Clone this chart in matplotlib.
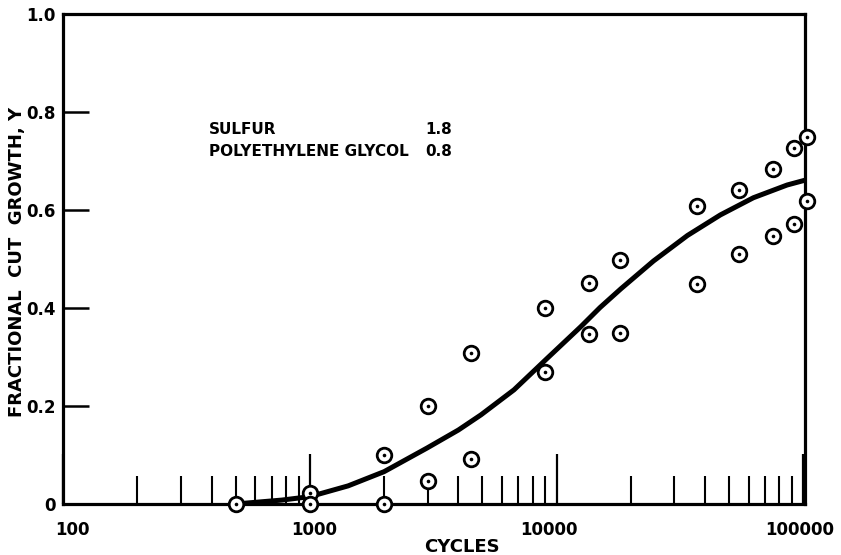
import matplotlib
matplotlib.use("Agg")
import matplotlib.pyplot as plt
import matplotlib.transforms as mtransforms
from matplotlib.ticker import FixedLocator, NullFormatter

# ---- data ----
cycles_pts = [500, 1000, 1000, 2000, 2000, 3000, 3000, 4500, 4500,
              9000, 9000, 13500, 13500, 18000, 18000, 37000, 37000,
              55000, 55000, 75000, 75000, 92000, 92000, 103000, 103000]
growth_pts = [0.0, 0.023, 0.0, 0.10, 0.0, 0.20, 0.046, 0.308, 0.092,
              0.399, 0.270, 0.452, 0.346, 0.498, 0.350, 0.608, 0.449,
              0.640, 0.510, 0.684, 0.546, 0.727, 0.571, 0.750, 0.618]

curve_x = [500, 770, 1000, 1430, 2000, 2980, 4000, 4940, 6720, 9190,
           12540, 15000, 18200, 24700, 33900, 46100, 62700, 85900, 101800]
curve_y = [0.0, 0.008, 0.015, 0.037, 0.066, 0.114, 0.151, 0.182, 0.233,
           0.298, 0.362, 0.401, 0.439, 0.496, 0.548, 0.590, 0.625, 0.651, 0.661]

x_major = [100, 1000, 10000, 100000]
x_major_labels = ["100", "1000", "10000", "100000"]
x_minor = [m * d for d in (100, 1000, 10000) for m in range(2, 10)]
y_ticks = [0, 0.2, 0.4, 0.6, 0.8, 1.0]
y_tick_labels = ["0", "0.2", "0.4", "0.6", "0.8", "1.0"]

note_names = ["SULFUR", "POLYETHYLENE GLYCOL"]
note_values = ["1.8", "0.8"]

# ---- figure ----
plt.rcParams['font.family'] = ['DejaVu Sans']
plt.rcParams['font.weight'] = 'bold'
fig = plt.figure(figsize=(8.41, 5.55), dpi=100)
ax = fig.add_axes([63/841, 1 - 504/555, (805 - 63)/841, (504 - 14)/555])

ax.set_xscale('log')
ax.set_xlim(100, 101500)
ax.set_ylim(0, 1.0)

for s in ax.spines.values():
    s.set_linewidth(2.3)
    s.set_color('black')

# curve
ax.plot(curve_x, curve_y, color='black', lw=3.6, solid_capstyle='butt',
        solid_joinstyle='round', zorder=3)

# points: open circles with a centre dot
ax.plot(cycles_pts, growth_pts, linestyle='none', marker='o', ms=10.5,
        mfc='white', mec='black', mew=2.0, zorder=4, clip_on=False)
ax.plot(cycles_pts, growth_pts, linestyle='none', marker='o', ms=2.6,
        mfc='black', mec='black', mew=0, zorder=5, clip_on=False)

# ticks
ax.xaxis.set_major_locator(FixedLocator(x_major))
ax.set_xticklabels(x_major_labels, fontsize=12, fontweight='bold')
ax.xaxis.set_minor_locator(FixedLocator(x_minor))
ax.xaxis.set_minor_formatter(NullFormatter())
ax.tick_params(axis='x', which='major', direction='in', length=36, width=1.6, pad=12)
ax.tick_params(axis='x', which='minor', direction='in', length=20, width=1.5)

ax.set_yticks(y_ticks)
ax.set_yticklabels(y_tick_labels, fontsize=12, fontweight='bold')
ax.tick_params(axis='y', which='major', direction='in', length=19, width=1.8, pad=5)
ax.tick_params(axis='y', which='minor', left=False)

# shift x tick labels slightly like the reference
offsets = {"100": 9, "1000": 4, "10000": -8, "100000": -4}
for lab in ax.get_xticklabels():
    dx = offsets.get(lab.get_text(), 0)
    lab.set_transform(lab.get_transform() +
                      mtransforms.ScaledTranslation(dx / 100, 0, fig.dpi_scale_trans))

ax.set_xlabel("CYCLES", fontsize=13, fontweight='bold')
ax.xaxis.set_label_coords((462 - 63) / 742, -(538 - 504) / 490)
ax.set_ylabel("FRACTIONAL  CUT  GROWTH, Y", fontsize=13, fontweight='bold')
ax.yaxis.set_label_coords(-(63 - 26) / 742, (504 - 262) / 490)

# annotation block
ys = [(504 - 130) / 490, (504 - 152) / 490]
for name, val, yy in zip(note_names, note_values, ys):
    ax.text((209 - 63) / 742, yy, name, transform=ax.transAxes, fontsize=11,
            fontweight='bold', ha='left', va='center')
    ax.text((452 - 63) / 742, yy, val, transform=ax.transAxes, fontsize=11,
            fontweight='bold', ha='right', va='center')

fig.savefig("out.png", dpi=100)
